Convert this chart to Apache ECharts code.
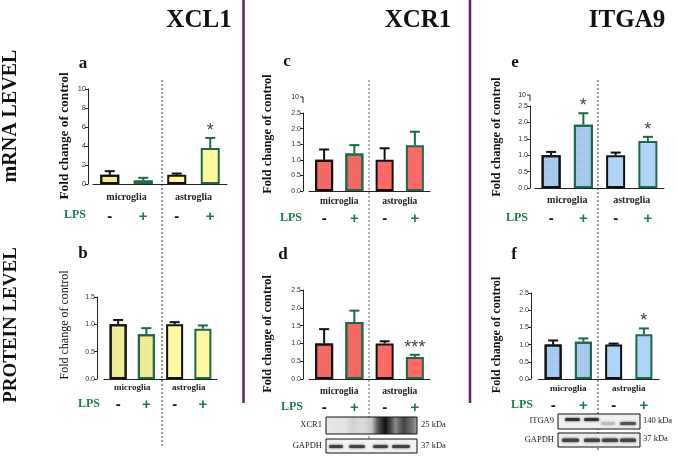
<!DOCTYPE html>
<html><head><meta charset="utf-8">
<script src="https://cdn.jsdelivr.net/npm/echarts@6/dist/echarts.min.js"></script>
<style>html,body{margin:0;padding:0;background:#fff}#c{width:678px;height:456px}</style>
</head><body><div id="c"></div>
<script>
// ---- data ----
const cellTypes = ['microglia', 'astroglia'];
const lpsLabels = ['-', '+', '-', '+'];
const xcl1MrnaVals = [0.97, 0.37, 0.98, 3.8];
const xcl1MrnaErr  = [1.35, 0.65, 1.1, 4.85];
const xcl1MrnaSig  = ['', '', '', '*'];
const xcl1ProtVals = [1.0, 0.82, 1.0, 0.92];
const xcl1ProtErr  = [1.08, 0.93, 1.04, 0.98];
const xcl1ProtSig  = ['', '', '', ''];
const xcr1MrnaVals = [1.0, 1.2, 1.0, 1.47];
const xcr1MrnaErr  = [1.33, 1.47, 1.37, 1.9];
const xcr1MrnaSig  = ['', '', '', ''];
const xcr1ProtVals = [1.0, 1.6, 1.0, 0.62];
const xcr1ProtErr  = [1.4, 1.92, 1.06, 0.68];
const xcr1ProtSig  = ['', '', '', '***'];
const itga9MrnaVals = [1.0, 1.93, 1.0, 1.43];
const itga9MrnaErr  = [1.1, 2.28, 1.08, 1.56];
const itga9MrnaSig  = ['', '*', '', '*'];
const itga9ProtVals = [1.0, 1.08, 1.0, 1.3];
const itga9ProtErr  = [1.12, 1.18, 1.03, 1.47];
const itga9ProtSig  = ['', '', '', '*'];

// ---- styles ----
const GREEN = '#1B6B45', TXTGREEN = '#1E7B4B', SERIF = '"Liberation Serif", "DejaVu Serif", serif';
const fam = {
  yellow: {mic: '#F4EE98', ast: '#FFF8A2', dot: 'rgba(120,110,20,0.12)'},
  red:    {mic: '#F86C68', ast: '#FF6A67', dot: 'rgba(120,20,20,0.12)'},
  blue:   {mic: '#ACCDF2', ast: '#B0D4F8', dot: 'rgba(40,80,140,0.13)'}
};
const panels = [
  {vals: xcl1MrnaVals, errs: xcl1MrnaErr, sig: xcl1MrnaSig, f: fam.yellow, max: 10, interval: 2, dec: 0,
   grid: {left: 93, top: 89, width: 134, height: 95}, off: 5, bw: 19, m1: 25, m2: 8, fs: 10, lfs: 7.5},
  {vals: xcl1ProtVals, errs: xcl1ProtErr, sig: xcl1ProtSig, f: fam.yellow, max: 1.5, interval: 0.5, dec: 1,
   grid: {left: 104, top: 297, width: 113, height: 82}, off: 7, bw: 17, m1: 18, m2: 4, fs: 9, lfs: 7},
  {vals: xcr1MrnaVals, errs: xcr1MrnaErr, sig: xcr1MrnaSig, f: fam.red, max: 2.5, interval: 0.5, dec: 1,
   grid: {left: 309, top: 113, width: 121, height: 78}, off: 6, bw: 18, m1: 20, m2: 6, fs: 9.5, lfs: 7},
  {vals: xcr1ProtVals, errs: xcr1ProtErr, sig: xcr1ProtSig, f: fam.red, max: 2.5, interval: 0.5, dec: 1,
   grid: {left: 309, top: 290, width: 121, height: 89}, off: 6, bw: 18, m1: 21, m2: 8, fs: 9.5, lfs: 7},
  {vals: itga9MrnaVals, errs: itga9MrnaErr, sig: itga9MrnaSig, f: fam.blue, max: 2.5, interval: 0.5, dec: 1,
   grid: {left: 535, top: 106, width: 129, height: 82}, off: 5, bw: 19, m1: 23, m2: 7, fs: 10, lfs: 7},
  {vals: itga9ProtVals, errs: itga9ProtErr, sig: itga9ProtSig, f: fam.blue, max: 2.5, interval: 0.5, dec: 1,
   grid: {left: 538, top: 293, width: 121, height: 86}, off: 7, bw: 17, m1: 19, m2: 5, fs: 9, lfs: 7}
];

const grids = [], xAxes = [], yAxes = [], series = [];
panels.forEach((p, g) => {
  grids.push(Object.assign({containLabel: false}, p.grid));
  xAxes.push({gridIndex: g, type: 'category', data: lpsLabels, position: 'bottom',
    axisLine: {lineStyle: {color: '#222', width: 1}},
    axisTick: {alignWithLabel: true, length: 3, lineStyle: {color: '#222'}},
    axisLabel: {interval: 0, margin: p.m1, formatter: v => v === '+' ? '{p|+}' : '{m|-}',
      rich: {p: {color: TXTGREEN, fontWeight: 'bold', fontSize: 15, fontFamily: 'Liberation Sans'},
             m: {color: '#111', fontWeight: 'bold', fontSize: 15, fontFamily: 'Liberation Sans'}}}});
  xAxes.push({gridIndex: g, type: 'category', data: cellTypes, position: 'bottom',
    axisLine: {show: false}, axisTick: {show: false},
    axisLabel: {interval: 0, margin: p.m2, fontFamily: SERIF, fontWeight: 'bold', fontSize: p.fs, color: '#222'}});
  yAxes.push({gridIndex: g, type: 'value', min: 0, max: p.max, interval: p.interval, offset: p.off,
    axisLine: {show: true, lineStyle: {color: '#222', width: 1}},
    axisTick: {show: true, length: 3, lineStyle: {color: '#222'}},
    splitLine: {show: false},
    axisLabel: {fontSize: p.lfs, color: '#333', margin: 2, fontFamily: 'Liberation Sans',
      formatter: v => v.toFixed(p.dec)}});
  const decal = {symbol: 'rect', symbolSize: 1, dashArrayX: [1, 1], dashArrayY: [1, 1], color: p.f.dot};
  series.push({type: 'bar', xAxisIndex: 2 * g, yAxisIndex: g, barWidth: p.bw, z: 2,
    data: p.vals.map((v, i) => {
      const st = {color: i < 2 ? p.f.mic : p.f.ast, borderColor: lpsLabels[i] === '+' ? GREEN : '#111', borderWidth: 2};
      if (i < 2) st.decal = decal;
      return {value: v, itemStyle: st};
    })});
  series.push({type: 'custom', xAxisIndex: 2 * g, yAxisIndex: g, z: 3,
    data: p.vals.map((v, i) => [i, v, p.errs[i]]),
    renderItem: (params, api) => {
      const i = params.dataIndex;
      const a = api.coord([api.value(0), api.value(1)]);
      const b = api.coord([api.value(0), api.value(2)]);
      const c = lpsLabels[i] === '+' ? GREEN : '#111';
      const ch = [
        {type: 'line', shape: {x1: a[0], y1: a[1], x2: b[0], y2: b[1]}, style: {stroke: c, lineWidth: 2}},
        {type: 'line', shape: {x1: b[0] - 5, y1: b[1], x2: b[0] + 5, y2: b[1]}, style: {stroke: c, lineWidth: 2}}
      ];
      if (p.sig[i]) ch.push({type: 'text', x: b[0], y: b[1] - 16,
        style: {text: p.sig[i], font: '18px "Liberation Sans"', fill: '#444', align: 'center', verticalAlign: 'top',
                textAlign: 'center', textVerticalAlign: 'top'}});
      return {type: 'group', children: ch};
    }});
});

// ---- decorations ----
function txt(text, x, y, font, fill, rot) {
  return {type: 'text', x, y, rotation: rot || 0, z: 10,
    style: {text, font, fill: fill || '#111', align: 'center', verticalAlign: 'middle', textAlign: 'center', textVerticalAlign: 'middle'}};
}
function ltxt(text, x, y, font, align) {
  return {type: 'text', x, y, z: 10,
    style: {text, font, fill: '#222', align, verticalAlign: 'middle', textAlign: align, textVerticalAlign: 'middle'}};
}
function vline(x, y1, y2, stroke, w, dash) {
  return {type: 'line', z: 1, shape: {x1: x, y1, x2: x, y2}, style: {stroke, lineWidth: w, lineDash: dash || null}};
}
const g = [];
g.push(txt('XCL1', 199, 21, 'bold 25px ' + SERIF));
g.push(txt('XCR1', 418, 21, 'bold 25px ' + SERIF));
g.push(txt('ITGA9', 627, 21, 'bold 25px ' + SERIF));
g.push(txt('mRNA LEVEL', 11, 116, 'bold 20px ' + SERIF, '#111', Math.PI / 2));
g.push(txt('PROTEIN LEVEL', 11, 325, 'bold 19px ' + SERIF, '#111', Math.PI / 2));
g.push(vline(243.5, 0, 403, '#6B1F6B', 2.5));
g.push(vline(470, 0, 403, '#6B1F6B', 2.5));
[['a', 83, 64], ['b', 83, 254], ['c', 287, 62], ['d', 283, 255], ['e', 515, 63], ['f', 514, 255]]
  .forEach(l => g.push(txt(l[0], l[1], l[2], 'bold 17px ' + SERIF)));
[[65, 136, 'bold 13.3px '], [65, 325, '12px '], [268, 134, 'bold 12.5px '], [268, 334, 'bold 12.3px '],
 [497, 137, 'bold 12.5px '], [497, 335, 'bold 12.2px ']]
  .forEach(a => g.push(txt('Fold change of control', a[0], a[1], a[2] + SERIF, '#111', Math.PI / 2)));
[[75, 215], [89, 404], [291, 218], [292, 407], [517, 218], [522, 405]]
  .forEach(a => g.push(txt('LPS', a[0], a[1], 'bold 12px ' + SERIF, TXTGREEN)));
g.push(vline(162, 80, 447, '#333', 1, [2, 2]));
g.push(vline(369, 80, 447, '#666', 1, [2, 2]));
g.push(vline(598, 80, 450, '#333', 1, [2, 2]));
// axis breaks (c, e)
g.push(ltxt('10', 299, 97, '7px "Liberation Sans"', 'right'));
g.push({type: 'polyline', shape: {points: [[300, 97], [303, 97], [303, 103]]}, style: {stroke: '#222', lineWidth: 1, fill: null}});
g.push(ltxt('10', 526, 95, '7px "Liberation Sans"', 'right'));
g.push({type: 'polyline', shape: {points: [[527, 95], [530, 95], [530, 101]]}, style: {stroke: '#222', lineWidth: 1, fill: null}});
// western blots (images)
function band(x, y, w, h, fill) {
  return {type: 'rect', z: 6, shape: {x, y, width: w, height: h, r: 1.5}, style: {fill, shadowBlur: 2.5, shadowColor: fill}};
}
g.push({type: 'rect', z: 5, shape: {x: 326, y: 417, width: 91, height: 17},
  style: {stroke: '#111', lineWidth: 1, fill: {type: 'linear', x: 0, y: 0, x2: 1, y2: 0, colorStops: [
    {offset: 0, color: '#e8e8e8'}, {offset: 0.22, color: '#e2e2e2'}, {offset: 0.3, color: '#d0d0d0'},
    {offset: 0.4, color: '#dcdcdc'}, {offset: 0.5, color: '#c8c8c8'}, {offset: 0.57, color: '#555'},
    {offset: 0.65, color: '#111'}, {offset: 0.72, color: '#555'}, {offset: 0.76, color: '#888'},
    {offset: 0.85, color: '#444'}, {offset: 0.95, color: '#777'}, {offset: 1, color: '#aaa'}]}}});
g.push({type: 'rect', z: 5, shape: {x: 326, y: 439, width: 91, height: 14}, style: {stroke: '#111', lineWidth: 1, fill: '#f2f2f2'}});
[[329, 14], [349, 16], [373, 15], [392, 18]].forEach(b => g.push(band(b[0], 445, b[1], 3, '#444')));
g.push(ltxt('XCR1', 322, 425, '8.5px ' + SERIF, 'right'));
g.push(ltxt('GAPDH', 322, 446, '8.5px ' + SERIF, 'right'));
g.push(ltxt('25 kDa', 421, 425, '8.5px ' + SERIF, 'left'));
g.push(ltxt('37 kDa', 421, 446, '8.5px ' + SERIF, 'left'));
g.push({type: 'rect', z: 5, shape: {x: 558, y: 414, width: 82, height: 15}, style: {stroke: '#111', lineWidth: 1, fill: '#f0f0f0'}});
[[565, 418, 15, '#333'], [584, 418, 15, '#333'], [601, 422, 14, '#bbb'], [620, 422, 16, '#555']]
  .forEach(b => g.push(band(b[0], b[1], b[2], 3, b[3])));
g.push({type: 'rect', z: 5, shape: {x: 558, y: 433, width: 82, height: 14}, style: {stroke: '#111', lineWidth: 1, fill: '#eeeeee'}});
[[562, 17], [584, 16], [602, 16], [620, 16]].forEach(b => g.push(band(b[0], 438.5, b[1], 3.5, '#444')));
g.push(ltxt('ITGA9', 554, 421, '8.5px ' + SERIF, 'right'));
g.push(ltxt('GAPDH', 554, 440, '8.5px ' + SERIF, 'right'));
g.push(ltxt('140 kDa', 643, 421, '8.5px ' + SERIF, 'left'));
g.push(ltxt('37 kDa', 643, 439, '8.5px ' + SERIF, 'left'));

const chart = echarts.init(document.getElementById('c'), null, {renderer: 'canvas'});
chart.setOption({animation: false, backgroundColor: '#fff', grid: grids, xAxis: xAxes, yAxis: yAxes, series, graphic: g});
</script></body></html>
